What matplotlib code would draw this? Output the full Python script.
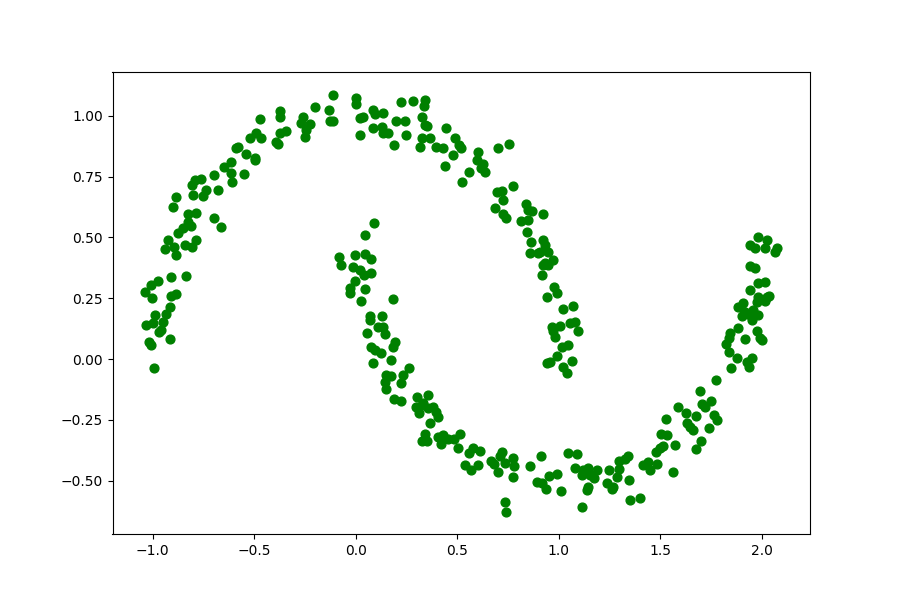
import matplotlib
matplotlib.use("Agg")
import matplotlib.pyplot as plt

# Upper moon
upper_x = [
    -0.612, -0.498, -0.649, -0.695, -0.612, -0.550, -0.609, -0.793, -0.760, -0.806,
    -0.735, -0.678, -0.801, -0.752, -0.883, -0.900, -0.826, -0.785, -0.695, -0.662,
    -0.826, -0.809, -0.851, -0.875, -0.925, -0.785, -0.842, -0.892, -0.806, -0.937,
    -0.883, -0.908, -0.834, -0.974, -1.006, -1.039, -1.003, -0.883, -0.911, -0.916,
    -0.933, -0.987, -0.949, -1.031, -0.999, -0.970, -0.957, -0.916, -1.015, -1.006,
    -0.994,
    -0.112, 0.003, 0.000, -0.202, -0.374, -0.371, -0.131, -0.128, -0.112, -0.260,
    -0.267, -0.227, -0.243, -0.251, -0.473, -0.345, -0.374, -0.391, -0.383, -0.493,
    -0.465, -0.522, -0.580, -0.591, -0.538, -0.498,
    0.020, 0.036, 0.085, 0.094, 0.135, 0.020, 0.085, 0.131, 0.135, 0.159,
    0.200, 0.241, 0.225, 0.282, 0.340, 0.324, 0.340, 0.250, 0.189, 0.315, 0.324,
    0.335, 0.351, 0.443, 0.365, 0.394, 0.430, 0.488, 0.509, 0.516, 0.479,
    0.438, 0.602, 0.598, 0.627, 0.619, 0.635, 0.558, 0.521, 0.701, 0.755,
    0.772, 0.696, 0.718, 0.723, 0.685, 0.726, 0.742, 0.837, 0.849, 0.870,
    0.923, 0.816, 0.849, 0.844, 0.865, 0.923, 0.931, 0.947, 0.857, 0.898,
    0.972, 0.931,
    0.906, 0.947, 0.923, 0.918, 0.977, 0.989, 0.942, 1.021, 1.070, 0.964,
    1.005, 1.054, 1.079, 0.972, 1.095, 0.980, 1.013, 1.046, 0.989, 0.942,
    0.956, 1.021, 1.063, 1.038,
]
upper_y = [
    0.811, 0.818, 0.788, 0.756, 0.763, 0.760, 0.729, 0.736, 0.739, 0.715,
    0.697, 0.697, 0.674, 0.670, 0.665, 0.624, 0.596, 0.599, 0.578, 0.544,
    0.564, 0.547, 0.537, 0.519, 0.489, 0.489, 0.469, 0.459, 0.459, 0.451,
    0.427, 0.336, 0.341, 0.322, 0.303, 0.275, 0.249, 0.267, 0.259, 0.215,
    0.185, 0.181, 0.153, 0.140, 0.147, 0.112, 0.119, 0.081, 0.071, 0.058,
    -0.038,
    1.085, 1.072, 1.047, 1.035, 1.019, 0.996, 1.023, 0.978, 0.978, 0.996,
    0.971, 0.965, 0.941, 0.914, 0.986, 0.937, 0.928, 0.891, 0.882, 0.928,
    0.910, 0.907, 0.873, 0.866, 0.845, 0.825,
    0.989, 0.996, 1.023, 1.006, 1.010, 0.921, 0.948, 0.955, 0.928, 0.928,
    0.978, 0.978, 1.058, 1.060, 1.065, 0.996, 0.962, 0.921, 0.880, 0.873, 0.907,
    1.041, 0.959, 0.948, 0.910, 0.871, 0.866, 0.907, 0.880, 0.868, 0.838,
    0.793, 0.852, 0.818, 0.800, 0.784, 0.767, 0.767, 0.729, 0.866, 0.882,
    0.711, 0.688, 0.690, 0.654, 0.619, 0.595, 0.581, 0.636, 0.612, 0.608,
    0.595, 0.567, 0.571, 0.523, 0.480, 0.489, 0.469, 0.441, 0.434, 0.434,
    0.407, 0.393,
    0.441, 0.386, 0.386, 0.345, 0.297, 0.270, 0.256, 0.206, 0.218, 0.133,
    0.137, 0.147, 0.151, 0.115, 0.115, 0.092, 0.051, 0.058, 0.014, -0.018,
    -0.011, -0.032, -0.008, -0.059,
]

# Lower moon
lower_x = [
    0.090, 0.044, -0.084, -0.074, -0.002, 0.044, 0.074, -0.013, 0.020, 0.041,
    0.077, -0.005, -0.030, -0.030, 0.044, 0.028, 0.184, 0.069, 0.130, 0.069,
    0.110, 0.135, 0.058, 0.143, 0.195, 0.184, 0.074, 0.094, 0.126, 0.085,
    0.176, 0.261, 0.151, 0.176, 0.233, 0.143, 0.225, 0.151, 0.189, 0.222,
    0.304, 0.356, 0.324, 0.299,
    0.310, 0.332, 0.356, 0.381, 0.397, 0.405, 0.365, 0.340, 0.324, 0.353,
    0.405, 0.430, 0.419, 0.455, 0.484, 0.512, 0.504, 0.578, 0.611, 0.557,
    0.537, 0.567, 0.602, 0.668, 0.681, 0.709, 0.721, 0.734, 0.775, 0.780,
    0.698, 0.775, 0.857, 0.911, 0.890, 0.915, 0.939, 0.951, 0.989, 1.010,
    1.046, 1.079, 0.734, 0.742,
    1.087, 1.120, 1.145, 1.186, 1.112, 1.153, 1.172, 1.145, 1.137, 1.115,
    1.248, 1.238, 1.260, 1.268, 1.284, 1.297, 1.297, 1.325, 1.341, 1.346,
    1.350, 1.399, 1.412, 1.440, 1.448, 1.484, 1.563, 1.478, 1.498, 1.511,
    1.571, 1.501, 1.533, 1.527, 1.588, 1.626, 1.632,
    1.839, 1.878, 1.928, 1.937, 1.846, 1.772, 1.695, 1.747, 1.703, 1.719,
    1.675, 1.764, 1.780, 1.645, 1.662, 1.740, 1.698, 1.675,
    1.982, 2.023, 1.941, 1.966, 2.015, 2.072, 2.064, 1.941, 1.966, 1.979,
    2.015, 1.941, 1.982, 2.023, 2.034, 2.015, 1.974, 1.908, 1.884, 1.957,
    1.916, 1.900, 1.941, 1.982, 1.949, 1.884, 1.843, 1.974, 1.835, 1.916,
    1.990, 1.998, 1.825, 1.951,
]
lower_y = [
    0.558, 0.510, 0.420, 0.386, 0.427, 0.432, 0.410, 0.379, 0.366, 0.345,
    0.355, 0.322, 0.291, 0.270, 0.288, 0.240, 0.245, 0.177, 0.177, 0.160,
    0.130, 0.130, 0.106, 0.103, 0.071, 0.048, 0.048, 0.037, 0.023, -0.018,
    -0.004, -0.038, -0.066, -0.070, -0.066, -0.093, -0.100, -0.125, -0.166, -0.171,
    -0.157, -0.148, -0.189, -0.196,
    -0.223, -0.182, -0.203, -0.196, -0.217, -0.237, -0.264, -0.310, -0.337, -0.337,
    -0.319, -0.312, -0.351, -0.329, -0.329, -0.306, -0.367, -0.365, -0.378, -0.388,
    -0.436, -0.456, -0.436, -0.419, -0.433, -0.397, -0.381, -0.429, -0.406, -0.439,
    -0.466, -0.484, -0.440, -0.399, -0.504, -0.511, -0.534, -0.480, -0.474, -0.543,
    -0.388, -0.449, -0.587, -0.628,
    -0.390, -0.456, -0.449, -0.456, -0.477, -0.477, -0.490, -0.527, -0.538, -0.607,
    -0.456, -0.511, -0.536, -0.527, -0.486, -0.453, -0.418, -0.412, -0.399, -0.497,
    -0.580, -0.573, -0.436, -0.422, -0.456, -0.432, -0.463, -0.381, -0.367, -0.358,
    -0.353, -0.306, -0.312, -0.248, -0.196, -0.223, -0.262,
    0.028, 0.003, -0.011, -0.032, -0.038, -0.086, -0.132, -0.173, -0.186, -0.196,
    -0.233, -0.230, -0.251, -0.278, -0.292, -0.282, -0.337, -0.370,
    0.503, 0.489, 0.469, 0.458, 0.455, 0.458, 0.441, 0.384, 0.375, 0.311,
    0.318, 0.284, 0.256, 0.256, 0.260, 0.238, 0.236, 0.229, 0.215, 0.201,
    0.194, 0.178, 0.181, 0.181, 0.160, 0.126, 0.106, 0.115, 0.085, 0.082,
    0.085, 0.078, 0.064, 0.004,
]

fig, ax = plt.subplots(figsize=(9, 6), dpi=100)
ax.scatter(upper_x + lower_x, upper_y + lower_y, c="green", s=40)
ax.set_xlim(-1.197, 2.236)
ax.set_ylim(-0.719, 1.180)
fig.savefig("out.png", dpi=100)
